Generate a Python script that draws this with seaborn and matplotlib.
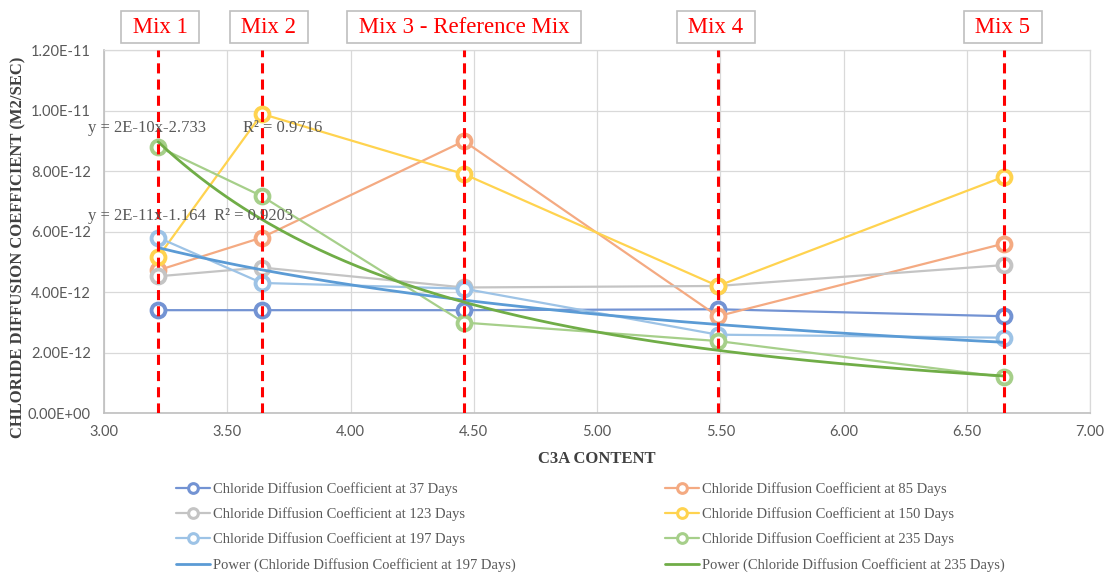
import numpy as np
import seaborn as sns
import matplotlib.pyplot as plt
from matplotlib.lines import Line2D
from matplotlib.transforms import blended_transform_factory, offset_copy

# C3A content of each mix (x positions of the red markers too)
c3a = [3.22, 3.64, 4.46, 5.49, 6.65]
mix_names = ['Mix 1', 'Mix 2', 'Mix 3 - Reference Mix', 'Mix 4', 'Mix 5']

# chloride diffusion coefficient (m2/sec)
days_37 = [3.40e-12, 3.40e-12, 3.40e-12, 3.43e-12, 3.20e-12]
days_85 = [4.72e-12, 5.80e-12, 8.99e-12, 3.20e-12, 5.60e-12]
days_123 = [4.52e-12, 4.81e-12, 4.15e-12, 4.20e-12, 4.89e-12]
days_150 = [5.16e-12, 9.89e-12, 7.90e-12, 4.20e-12, 7.81e-12]
days_197 = [5.80e-12, 4.30e-12, 4.11e-12, 2.59e-12, 2.49e-12]
days_235 = [8.80e-12, 7.17e-12, 2.99e-12, 2.38e-12, 1.19e-12]

series = [days_37, days_85, days_123, days_150, days_197, days_235]
ages = [37, 85, 123, 150, 197, 235]
colors = ['#7393D3', '#F4AA82', '#C4C4C4', '#FFD34F', '#9DC3E6', '#A6CF8A']
trend_colors = {197: '#5B9BD5', 235: '#70AD47'}

# trendline labels as printed on the chart
eq_235 = 'y = 2E-10x-2.733'
r2_235 = 'R\u00b2 = 0.9716'
eq_197 = 'y = 2E-11x-1.164  R\u00b2 = 0.9203'

x_ticks = [3.0, 3.5, 4.0, 4.5, 5.0, 5.5, 6.0, 6.5, 7.0]
y_ticks = [0, 2e-12, 4e-12, 6e-12, 8e-12, 1e-11, 1.2e-11]

TEXT_GRAY = '#595959'


def power_fit(x, y):
    """
    Excel style power trendline (least squares in log-log space),
    drawn only over the range of the data.
    """
    b, ln_a = np.polyfit(np.log(x), np.log(y), 1)
    xs = np.linspace(min(x), max(x), 200)
    return xs, np.exp(ln_a) * xs ** b


def main():
    sns.set_style('white')
    plt.rcParams['font.family'] = ['Liberation Serif', 'DejaVu Serif']

    fig = plt.figure(figsize=(11.1, 5.77), dpi=100)
    ax = fig.add_axes([0.0937, 0.2842, 0.8883, 0.6291])

    # data series
    for vals, age, col in zip(series, ages, colors):
        sns.lineplot(x=c3a, y=vals, ax=ax, color=col, linewidth=1.6,
                     marker='o', markersize=10, markerfacecolor='white',
                     markeredgecolor=col, markeredgewidth=2.8, zorder=3)
    # power trendlines
    for vals, age in [(days_197, 197), (days_235, 235)]:
        xs, ys = power_fit(c3a, vals)
        sns.lineplot(x=xs, y=ys, ax=ax, color=trend_colors[age],
                     linewidth=2.0, zorder=4)

    # red dashed lines at each mix
    for x in c3a:
        ax.axvline(x, color='#FF0000', linewidth=2.2,
                   linestyle=(0, (3.3, 2.0)), zorder=6)

    # mix boxes above the plot (small nudges as in the original layout)
    trans = blended_transform_factory(ax.transData, fig.transFigure)
    nudges = [2, 7, 0, -2, -1]
    for x, name, dx in zip(c3a, mix_names, nudges):
        t = offset_copy(trans, fig=fig, x=dx, y=0, units='dots')
        ax.text(x, 0.953, ' ' + name + ' ', transform=t, ha='center',
                va='center', fontsize=16.5, color='#FF0000',
                bbox=dict(boxstyle='square,pad=0.25', facecolor='white',
                          edgecolor='#BFBFBF', linewidth=1.2))

    # trendline equations
    ax.text(2.935, 9.42e-12, eq_235, fontsize=12, color=TEXT_GRAY,
            va='center', ha='left', clip_on=False, zorder=7)
    ax.text(3.564, 9.42e-12, r2_235, fontsize=12, color=TEXT_GRAY,
            va='center', ha='left', clip_on=False, zorder=7)
    ax.text(2.935, 6.50e-12, eq_197, fontsize=12, color=TEXT_GRAY,
            va='center', ha='left', clip_on=False, zorder=7)

    # axes
    ax.set_xlim(3, 7)
    ax.set_ylim(0, 1.2e-11)
    ax.set_xticks(x_ticks)
    ax.set_yticks(y_ticks)
    ax.set_xticklabels(['%.2f' % t for t in x_ticks])
    ax.set_yticklabels(['{:.2E}'.format(t) for t in y_ticks])
    for lab in ax.get_xticklabels() + ax.get_yticklabels():
        lab.set_fontfamily('Lato')
        lab.set_fontsize(10.5)
        lab.set_color(TEXT_GRAY)
    ax.tick_params(axis='both', length=0)
    ax.tick_params(axis='x', pad=8.5)
    ax.tick_params(axis='y', pad=9.5)
    ax.grid(True, color='#D9D9D9', linewidth=0.9)
    ax.set_axisbelow(True)
    for side in ['top', 'right']:
        ax.spines[side].set_color('#D9D9D9')
        ax.spines[side].set_linewidth(0.9)
    for side in ['left', 'bottom']:
        ax.spines[side].set_color('#BFBFBF')
        ax.spines[side].set_linewidth(1.2)

    ax.set_xlabel('C3A CONTENT', fontsize=12, fontweight='bold',
                  color='#404040')
    ax.xaxis.set_label_coords(0.5, -0.126)
    ax.xaxis.label.set_va('center')
    ax.set_ylabel('CHLORIDE DIFFUSION COEFFICIENT (M2/SEC)', fontsize=12,
                  fontweight='bold', color='#404040')
    ax.yaxis.set_label_coords(-0.0872, 0.457)
    ax.yaxis.label.set_va('center')

    if ax.get_legend() is not None:
        ax.get_legend().remove()

    # legend, two columns like Excel (row-wise order)
    handles = []
    for age, col in zip(ages, colors):
        handles.append(Line2D([], [], color=col, linewidth=1.6, marker='o',
                              markersize=7, markerfacecolor='white',
                              markeredgecolor=col, markeredgewidth=2.2))
    labels = ['Chloride Diffusion Coefficient at %d Days' % a for a in ages]
    trend_handles = [Line2D([], [], color=trend_colors[a], linewidth=2.0)
                     for a in (197, 235)]
    trend_labels = ['Power (Chloride Diffusion Coefficient at %d Days)' % a
                    for a in (197, 235)]

    left_h = [handles[0], handles[2], handles[4], trend_handles[0]]
    left_l = [labels[0], labels[2], labels[4], trend_labels[0]]
    right_h = [handles[1], handles[3], handles[5], trend_handles[1]]
    right_l = [labels[1], labels[3], labels[5], trend_labels[1]]
    for hs, ls, xpos in [(left_h, left_l, 0.1586), (right_h, right_l, 0.599)]:
        fig.legend(hs, ls, loc='upper left', bbox_to_anchor=(xpos, 0.164),
                   frameon=False, fontsize=10.5, labelcolor=TEXT_GRAY,
                   handlelength=2.33, handletextpad=0.2, borderpad=0,
                   borderaxespad=0, labelspacing=0.78)

    fig.savefig('out.png', dpi=100)


if __name__ == '__main__':
    main()
